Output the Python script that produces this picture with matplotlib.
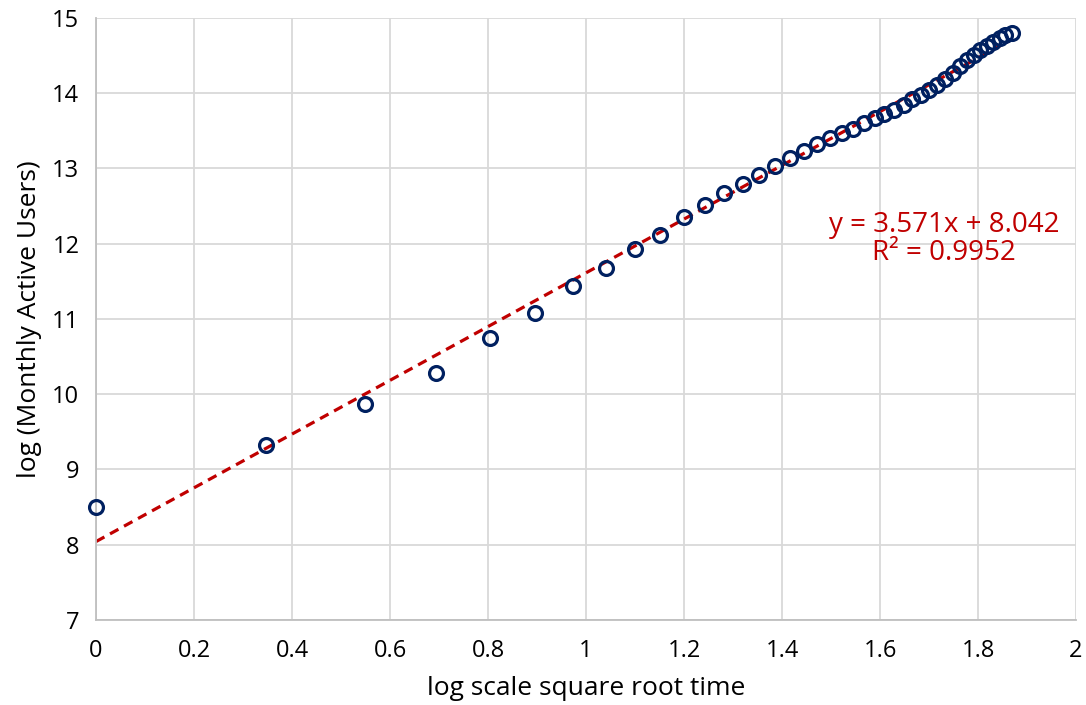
import matplotlib
matplotlib.use("Agg")
import matplotlib.pyplot as plt
import numpy as np

plt.rcParams['font.family'] = ['Open Sans', 'DejaVu Sans']

# data: x = log scale square root time, y = log(Monthly Active Users)
x_vals = [0.000, 0.347, 0.549, 0.693, 0.805, 0.896, 0.973, 1.040, 1.099, 1.151,
          1.199, 1.242, 1.282, 1.320, 1.354, 1.386, 1.417, 1.445, 1.472, 1.498,
          1.522, 1.545, 1.568, 1.589, 1.609, 1.629, 1.648, 1.666, 1.684, 1.701,
          1.717, 1.733, 1.748, 1.763, 1.778, 1.792, 1.805, 1.818, 1.831, 1.844,
          1.856, 1.869]
y_vals = [8.50, 9.32, 9.87, 10.28, 10.75, 11.08, 11.44, 11.68, 11.93, 12.12,
          12.35, 12.52, 12.68, 12.79, 12.91, 13.03, 13.14, 13.23, 13.32, 13.41,
          13.47, 13.53, 13.60, 13.67, 13.72, 13.78, 13.85, 13.92, 13.98, 14.04,
          14.11, 14.19, 14.27, 14.36, 14.44, 14.51, 14.57, 14.63, 14.68, 14.73,
          14.77, 14.80]
slope = 3.571
intercept = 8.042
r2 = 0.9952
x_ticks = [0, 0.2, 0.4, 0.6, 0.8, 1, 1.2, 1.4, 1.6, 1.8, 2]
x_tick_labels = ["0", "0.2", "0.4", "0.6", "0.8", "1", "1.2", "1.4", "1.6", "1.8", "2"]
y_ticks = [7, 8, 9, 10, 11, 12, 13, 14, 15]

fig = plt.figure(figsize=(10.86, 7.05), dpi=100)
ax = fig.add_axes([0.0884, 0.1206, 0.9908 - 0.0884, 0.9745 - 0.1206])

x_arr = np.array(x_vals)
fit_x = np.array([x_arr.min(), x_arr.max()])
ax.plot(fit_x, slope * fit_x + intercept, color='#C00000', lw=2.3,
        linestyle=(0, (3, 2)), zorder=2)
ax.plot(x_vals, y_vals, linestyle='none', marker='o', markersize=10,
        markerfacecolor='none', markeredgecolor='#002060', markeredgewidth=2.3,
        zorder=3, clip_on=False)

ax.set_xlim(0, 2)
ax.set_ylim(7, 15)
ax.set_xticks(x_ticks)
ax.set_xticklabels(x_tick_labels)
ax.set_yticks(y_ticks)
ax.grid(True, color='#d9d9d9', lw=1.3)
ax.set_axisbelow(True)
for s in ['top', 'right']:
    ax.spines[s].set_visible(False)
for s in ['left', 'bottom']:
    ax.spines[s].set_color('#bfbfbf')
    ax.spines[s].set_linewidth(1.3)
ax.tick_params(axis='x', length=0, labelsize=17, colors='black', pad=14)
ax.tick_params(axis='y', length=0, labelsize=17, colors='black', pad=12)

ax.set_xlabel('log scale square root time', fontsize=19, labelpad=9)
ax.set_ylabel('log (Monthly Active Users)', fontsize=19, labelpad=7)

ax.text(1.731, 12.06, f"y = {slope}x + {intercept}\nR² = {r2}", color='#C00000',
        fontsize=20, ha='center', va='center', linespacing=1.0)

fig.savefig('out.png', dpi=100)
